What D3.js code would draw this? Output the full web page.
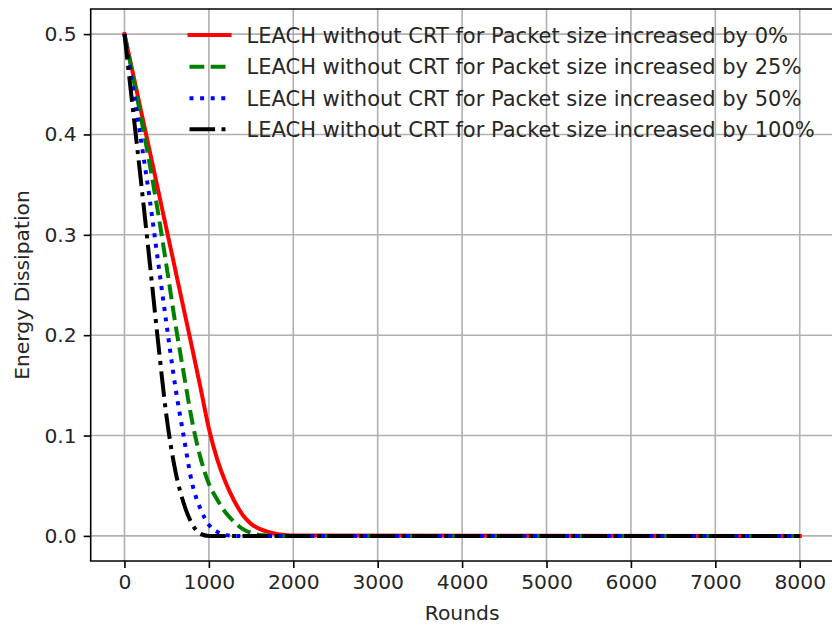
<!DOCTYPE html>
<html>
<head>
<meta charset="utf-8">
<script src="https://cdn.jsdelivr.net/npm/d3@7"></script>
<style>
html, body { margin: 0; padding: 0; background: #fff; }
svg { display: block; }
text { font-family: "DejaVu Sans", sans-serif; fill: #262626; }
</style>
</head>
<body>
<svg id="chart" width="832" height="628"></svg>
<script>
// ---- data ----
const rounds = [0, 100, 200, 300, 400, 500, 600, 700, 800, 900, 1000, 1100, 1200, 1300, 1400, 1500, 1600, 1700, 1800, 1900, 2000, 8000];
const pkt0   = [0.5, 0.461, 0.422, 0.383, 0.344, 0.305, 0.266, 0.227, 0.188, 0.148, 0.107, 0.076, 0.053, 0.035, 0.021, 0.012, 0.007, 0.004, 0.002, 0.001, 0.0003, 0];
const pkt25  = [0.5, 0.458, 0.415, 0.370, 0.321, 0.268, 0.213, 0.163, 0.115, 0.078, 0.052, 0.036, 0.023, 0.014, 0.007, 0.003, 0.001, 0.0003, 0, 0, 0, 0];
const pkt50  = [0.5, 0.447, 0.392, 0.335, 0.272, 0.210, 0.150, 0.100, 0.053, 0.027, 0.011, 0.004, 0.001, 0, 0, 0, 0, 0, 0, 0, 0, 0];
const pkt100 = [0.5, 0.425, 0.350, 0.272, 0.192, 0.118, 0.066, 0.033, 0.012, 0.002, 0, 0, 0, 0, 0, 0, 0, 0, 0, 0, 0, 0];
const seriesLabels = [
  "LEACH without CRT for Packet size increased by 0%",
  "LEACH without CRT for Packet size increased by 25%",
  "LEACH without CRT for Packet size increased by 50%",
  "LEACH without CRT for Packet size increased by 100%"
];
const xTicks = [0, 1000, 2000, 3000, 4000, 5000, 6000, 7000, 8000];
const yTicks = [0.0, 0.1, 0.2, 0.3, 0.4, 0.5];
const xTitle = "Rounds";
const yTitle = "Energy Dissipation";

// ---- styles ----
const styles = [
  { color: "#ff0000", dash: null },
  { color: "#008000", dash: "14.8,6.4" },
  { color: "#0000ff", dash: "4,6.6" },
  { color: "#000000", dash: "25.6,6.4,4,6.4" }
];
const seriesValues = [pkt0, pkt25, pkt50, pkt100];

const svg = d3.select("#chart");
const L = 90.7, R = 833.5, T = 9, B = 561;
const FS = 20.3;
const LFS = 21;

const x = d3.scaleLinear().domain([-400, 8400]).range([L, R]);
const y = d3.scaleLinear().domain([-0.025, 0.525]).range([B, T]);

// grid
const grid = svg.append("g");
grid.selectAll("line.v").data(xTicks).enter().append("line")
  .attr("x1", d => x(d)).attr("x2", d => x(d)).attr("y1", T).attr("y2", B)
  .attr("stroke", "#b0b0b0").attr("stroke-width", 1.6);
grid.selectAll("line.h").data(yTicks).enter().append("line")
  .attr("y1", d => y(d)).attr("y2", d => y(d)).attr("x1", L).attr("x2", R)
  .attr("stroke", "#b0b0b0").attr("stroke-width", 1.6);

// lines
svg.append("clipPath").attr("id", "clip").append("rect")
  .attr("x", L).attr("y", T).attr("width", R - L).attr("height", B - T);
const lineGen = d3.line().x(d => x(d[0])).y(d => y(d[1])).curve(d3.curveMonotoneX);
const lg = svg.append("g").attr("clip-path", "url(#clip)");
seriesValues.forEach((vals, i) => {
  const pts = rounds.map((r, k) => [r, vals[k]]);
  lg.append("path").datum(pts)
    .attr("d", lineGen)
    .attr("fill", "none")
    .attr("stroke", styles[i].color)
    .attr("stroke-width", 4)
    .attr("stroke-linejoin", "round")
    .attr("stroke-linecap", i === 0 ? "square" : "butt")
    .attr("stroke-dasharray", styles[i].dash);
});

// axes
const xAxis = d3.axisBottom(x).tickValues(xTicks).tickFormat(d3.format("d")).tickSize(7).tickPadding(7);
const yAxis = d3.axisLeft(y).tickValues(yTicks).tickFormat(d3.format(".1f")).tickSize(7).tickPadding(7);
const gx = svg.append("g").attr("transform", `translate(0,${B})`).call(xAxis);
const gy = svg.append("g").attr("transform", `translate(${L},0)`).call(yAxis);
[gx, gy].forEach(g => {
  g.select(".domain").remove();
  g.selectAll(".tick line").attr("stroke", "#000").attr("stroke-width", 1.6);
  g.selectAll(".tick text").attr("font-size", FS).attr("font-family", "DejaVu Sans").attr("fill", "#262626");
});

// spines
svg.append("line").attr("x1", L).attr("x2", L).attr("y1", T).attr("y2", B).attr("stroke", "#000").attr("stroke-width", 1.6);
svg.append("line").attr("x1", L).attr("x2", R).attr("y1", B).attr("y2", B).attr("stroke", "#000").attr("stroke-width", 1.6).attr("stroke-linecap", "square");
svg.append("line").attr("x1", L).attr("x2", R).attr("y1", T).attr("y2", T).attr("stroke", "#000").attr("stroke-width", 1.6).attr("stroke-linecap", "square");
svg.append("line").attr("x1", R).attr("x2", R).attr("y1", T).attr("y2", B).attr("stroke", "#000").attr("stroke-width", 1.6);

// titles
svg.append("text").attr("x", (L + R) / 2).attr("y", 620).attr("text-anchor", "middle")
  .attr("font-size", FS).text(xTitle);
svg.append("text").attr("transform", `translate(28.5,${(T + B) / 2}) rotate(-90)`).attr("text-anchor", "middle")
  .attr("font-size", FS).text(yTitle);

// legend (no frame)
const legY = [35, 66.7, 98.3, 129.3];
const leg = svg.append("g");
seriesLabels.forEach((lab, i) => {
  const g = leg.append("g").attr("transform", `translate(0,${legY[i]})`);
  g.append("line").attr("x1", 189.5).attr("x2", 229.5).attr("y1", 0).attr("y2", 0)
    .attr("stroke", styles[i].color).attr("stroke-width", 4)
    .attr("stroke-linecap", i === 0 ? "square" : "butt")
    .attr("stroke-dasharray", styles[i].dash);
  g.append("text").attr("x", 246.5).attr("y", 7.6).attr("font-size", LFS).text(lab);
});
</script>
</body>
</html>
